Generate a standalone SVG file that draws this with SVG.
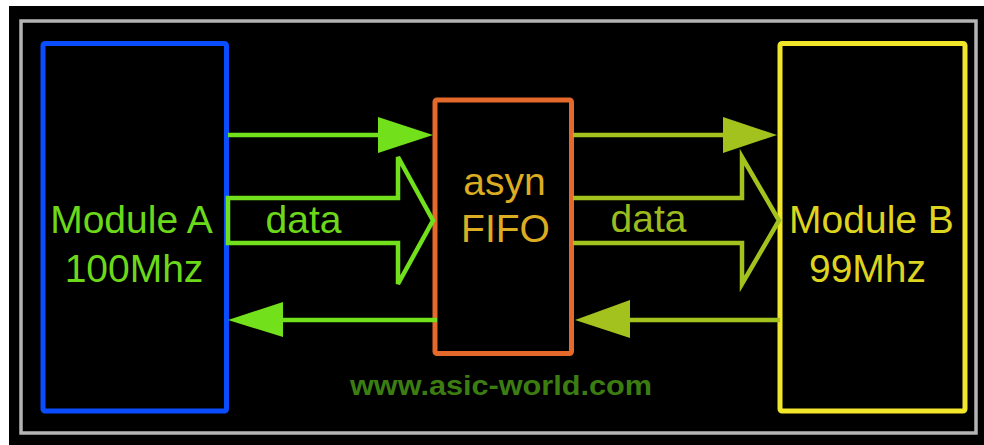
<svg xmlns="http://www.w3.org/2000/svg" width="984" height="445" viewBox="0 0 984 445">
  <style>
    .lbl { font-family: "Liberation Sans", Arial, sans-serif; font-size: 39px; text-anchor: middle; }
    .box { fill: none; stroke-width: 5; stroke-linejoin: round; }
    .wire { fill: none; stroke-width: 4.5; }
    .fat { fill: none; stroke-width: 4.5; stroke-linejoin: miter; }
    .green { stroke: #72e01a; }
    .greenf { fill: #72e01a; }
    .olive { stroke: #a3c21e; }
    .olivef { fill: #a3c21e; }
  </style>

  <!-- backdrop and frame -->
  <rect x="0" y="0" width="984" height="445" fill="#ffffff"/>
  <rect x="9" y="6" width="975" height="439" fill="#000000"/>
  <rect x="21" y="21" width="955" height="412" fill="none" stroke="#b4b4b4" stroke-width="3.5"/>

  <!-- Module A -->
  <g id="module-a">
    <rect class="box" x="43" y="43.5" width="183.5" height="367.5" rx="2" stroke="#0a4dff"/>
    <text class="lbl" x="131.5" y="233" fill="#6cd81a">Module A</text>
    <text class="lbl" x="134" y="282" fill="#6cd81a">100Mhz</text>
  </g>

  <!-- asyn FIFO -->
  <g id="asyn-fifo">
    <rect class="box" x="435" y="100" width="136.5" height="253.5" rx="2" stroke="#e5692a"/>
    <text class="lbl" x="504.5" y="195" fill="#dcac22">asyn</text>
    <text class="lbl" x="505.5" y="242" fill="#dcac22">FIFO</text>
  </g>

  <!-- Module B -->
  <g id="module-b">
    <rect class="box" x="780" y="43.5" width="185" height="367.5" rx="2" stroke="#f2e62a"/>
    <text class="lbl" x="871.5" y="233" fill="#dcd41e">Module B</text>
    <text class="lbl" x="867.5" y="282" fill="#dcd41e">99Mhz</text>
  </g>

  <!-- connectors -->
  <g id="connectors">
    <!-- A to FIFO: control line -->
    <line class="wire green" x1="228" y1="135" x2="380" y2="135"/>
    <polygon class="greenf" points="378,117 433,135 378,153"/>
    <!-- A to FIFO: data bus -->
    <path class="fat green" d="M228,198 H398 V157 L433,220.5 L398,284 V243 H228 Z"/>
    <text class="lbl" x="303.5" y="233" fill="#6cd81a">data</text>
    <!-- FIFO to A: return line -->
    <line class="wire green" x1="281" y1="320" x2="437" y2="320"/>
    <polygon class="greenf" points="283,302 228,320 283,337"/>

    <!-- FIFO to B: control line -->
    <line class="wire olive" x1="573" y1="135" x2="725" y2="135"/>
    <polygon class="olivef" points="723,117 777,135 723,153"/>
    <!-- FIFO to B: data bus -->
    <path class="fat olive" d="M573,198 H742 V157 L779,220.5 L742,284 V243 H573"/>
    <text class="lbl" x="648.5" y="232" fill="#9cbc1e">data</text>
    <!-- B to FIFO: return line -->
    <line class="wire olive" x1="628" y1="320" x2="780" y2="320"/>
    <polygon class="olivef" points="630,300 575,320 630,338"/>
  </g>

  <text x="501" y="395" font-family="'Liberation Sans', Arial, sans-serif" font-size="28" font-weight="bold" text-anchor="middle" textLength="302" lengthAdjust="spacingAndGlyphs" fill="#3c7d12">www.asic-world.com</text>
</svg>
